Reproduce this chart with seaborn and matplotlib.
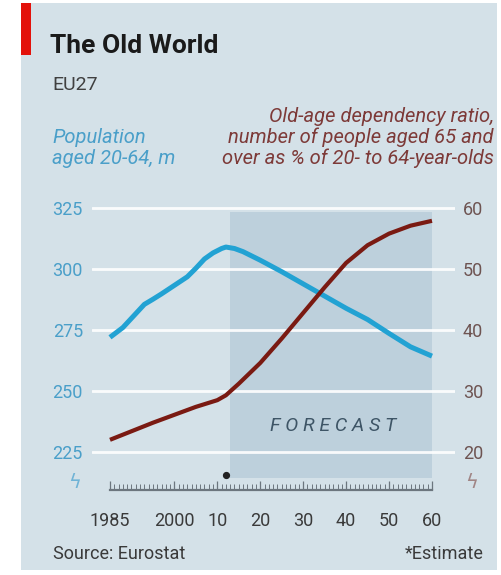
import matplotlib
matplotlib.use("Agg")
import matplotlib.pyplot as plt
from matplotlib.patches import Rectangle
import matplotlib.transforms as mtransforms
import numpy as np
import pandas as pd
import seaborn as sns

# ---- data -------------------------------------------------------------
pop_years = [1985, 1988, 1990, 1993, 1995, 1997, 2000, 2003, 2005, 2007, 2009,
             2011, 2012, 2014, 2016, 2020, 2025, 2030, 2035, 2040, 2045, 2050,
             2055, 2060]
pop_m = [272.0, 276.0, 279.8, 285.5, 287.6, 289.8, 293.3, 296.8, 300.3, 304.1,
         306.6, 308.4, 309.0, 308.4, 307.1, 303.6, 298.9, 293.9, 288.9, 283.9,
         279.3, 273.6, 268.1, 264.3]

ratio_years = [1985, 1990, 1995, 2000, 2005, 2010, 2012, 2015, 2020, 2025,
               2030, 2035, 2040, 2045, 2050, 2055, 2060]
ratio_pct = [22.0, 23.4, 24.8, 26.1, 27.4, 28.5, 29.3, 31.2, 34.6, 38.6,
             42.8, 47.0, 51.0, 53.9, 55.8, 57.1, 57.9]

left_ticks = [225, 250, 275, 300, 325]
right_ticks = [20, 30, 40, 50, 60]
x_ticks = [1985, 2000, 2010, 2020, 2030, 2040, 2050, 2060]
x_labels = ["1985", "2000", "10", "20", "30", "40", "50", "60"]
forecast_start, forecast_end = 2013, 2060
estimate_year = 2012

title = "The Old World"
subtitle = "EU27"
left_label = ["Population", "aged 20-64, m"]
right_label = ["Old-age dependency ratio,",
               "number of people aged 65 and",
               "over as % of 20- to 64-year-olds"]
source = "Source: Eurostat"
note = "*Estimate"

# ---- style ------------------------------------------------------------
sns.set_theme(style="white")
plt.rcParams["font.family"] = ["Roboto", "DejaVu Sans"]

BG = "#d4e1e8"
SHADE = "#bdd0dc"
BLUE = "#22a2d3"
BLUE_TXT = "#4a9fc9"
RED = "#7a1a12"
RED_TXT = "#7d3a38"
RIGHT_TICK = "#6e5452"
DARK = "#3a3a3a"

W, H = 502, 575
fig = plt.figure(figsize=(W / 100, H / 100), dpi=100)
fig.patch.set_facecolor("white")

def fx(px):
    return px / W

def fy(py):
    return 1 - py / H

# panel background and red tag
fig.patches.append(Rectangle((fx(21), fy(570)), fx(497) - fx(21), fy(3) - fy(570),
                             transform=fig.transFigure, facecolor=BG,
                             edgecolor="none", zorder=-10))
fig.patches.append(Rectangle((fx(21), fy(55)), fx(31) - fx(21), fy(3) - fy(55),
                             transform=fig.transFigure, facecolor="#e3120b",
                             edgecolor="none", zorder=-9))

# ---- axes -------------------------------------------------------------
ax = fig.add_axes([fx(92), fy(490), fx(455) - fx(92), fy(204) - fy(490)])
ax.patch.set_visible(False)
ax2 = ax.twinx()
ax2.patch.set_visible(False)

y_lo, y_hi = 209.43, 326.64
ax.set_ylim(y_lo, y_hi)
ax2.set_ylim(20 + (y_lo - 225) * 0.4, 20 + (y_hi - 225) * 0.4)
ax.set_xlim(1980.81, 2065.36)

# forecast band
ax.axvspan(forecast_start, forecast_end, ymin=0.042, ymax=0.972,
           facecolor=SHADE, edgecolor="none", zorder=0.2)

# gridlines
for v in left_ticks:
    ax.axhline(v, color="white", lw=2.0, alpha=0.9, zorder=0.5)

pop_df = pd.DataFrame({"year": pop_years, "population": pop_m})
ratio_df = pd.DataFrame({"year": ratio_years, "ratio": ratio_pct})

sns.lineplot(data=pop_df, x="year", y="population", ax=ax, color=BLUE,
             lw=3.6, solid_joinstyle="round", solid_capstyle="butt", zorder=3)
sns.lineplot(data=ratio_df, x="year", y="ratio", ax=ax2, color=RED,
             lw=3.0, solid_joinstyle="round", solid_capstyle="butt", zorder=3)

# y axes
ax.set_yticks(left_ticks)
ax.set_yticklabels([str(t) for t in left_ticks])
ax.tick_params(axis="y", length=0, pad=6.5, labelsize=13, labelcolor=BLUE_TXT)
ax2.set_yticks(right_ticks)
ax2.set_yticklabels([str(t) for t in right_ticks])
ax2.tick_params(axis="y", length=0, pad=5.8, labelsize=13, labelcolor=RIGHT_TICK)
ax.set_ylabel("")
ax2.set_ylabel("")
ax.set_xlabel("")

for a in (ax, ax2):
    for s in ("top", "left", "right"):
        a.spines[s].set_visible(False)
ax2.spines["bottom"].set_visible(False)

# x axis ruler
RULER = "#6c767e"
ax.spines["bottom"].set_visible(True)
ax.spines["bottom"].set_color(RULER)
ax.spines["bottom"].set_linewidth(1.6)
ax.spines["bottom"].set_bounds(1985, 2060)
ax.set_xticks(x_ticks)
ax.set_xticklabels(x_labels)
ax.set_xticks(np.arange(1985, 2061, 1), minor=True)
ax.tick_params(axis="x", which="both", bottom=True, top=False)
ax.tick_params(axis="x", which="major", direction="in", length=6.5, width=0.9,
               color=RULER, pad=15.5, labelsize=13, labelcolor=DARK)
ax.tick_params(axis="x", which="minor", direction="in", length=4.5, width=0.7,
               color=RULER)

# estimate marker above the ruler
trans = mtransforms.blended_transform_factory(ax.transData, ax.transAxes)
ax.plot([estimate_year], [0.052], marker="o", ms=4.2, color="#222222",
        transform=trans, clip_on=False, zorder=5)

# forecast label
ax.text((forecast_start + forecast_end) / 2 + 0.4, 0.225, " ".join("FORECAST"),
        transform=trans, ha="center", va="center", fontsize=14,
        style="italic", color="#3e5566", zorder=4)

# axis-break marks
fig.text(fx(75), fy(482), "ϟ", ha="center", va="center", fontsize=14,
         color="#6fb3d6", family=["DejaVu Sans"])
fig.text(fx(472), fy(482), "ϟ", ha="center", va="center", fontsize=14,
         color="#a08585", family=["DejaVu Sans"])

# ---- headline text ----------------------------------------------------
fig.text(fx(50), fy(53), title, fontsize=19, fontweight="bold",
         color="#1a1a1a", va="baseline", ha="left")
fig.text(fx(52), fy(90), subtitle, fontsize=14, color="#404040",
         va="baseline", ha="left")

for line, base in zip(left_label, [143, 164]):
    fig.text(fx(52), fy(base), line, fontsize=14.5, style="italic",
             color=BLUE_TXT, va="baseline", ha="left")
for line, base in zip(right_label, [122, 143, 164]):
    fig.text(fx(494), fy(base), line, fontsize=14.5, style="italic",
             color=RED_TXT, va="baseline", ha="right")

fig.text(fx(53), fy(559), source, fontsize=13, color=DARK,
         va="baseline", ha="left")
fig.text(fx(484), fy(559), note, fontsize=13, color=DARK,
         va="baseline", ha="right")

fig.savefig("out.png", dpi=100, facecolor=fig.get_facecolor())
